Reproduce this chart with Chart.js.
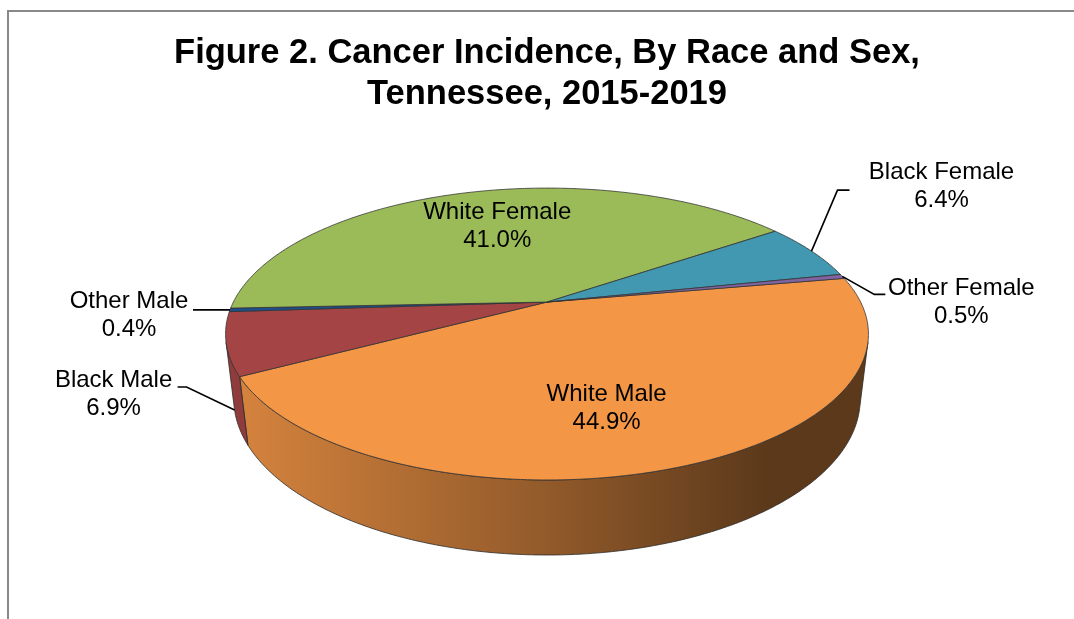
<!DOCTYPE html>
<html>
<head>
<meta charset="utf-8">
<script src="https://cdn.jsdelivr.net/npm/chart.js@4.4.1/dist/chart.umd.min.js"></script>
<style>
  html, body { margin: 0; padding: 0; background: #fff; }
  #wrap { position: relative; width: 1074px; height: 619px; overflow: hidden; }
  #frame { position: absolute; left: 7px; top: 10px; right: 0; bottom: 0;
           border-left: 2px solid #898989; border-top: 2px solid #898989; pointer-events: none; }
</style>
</head>
<body>
<div id="wrap">
  <canvas id="chart" width="1074" height="619"></canvas>
  <div id="frame"></div>
</div>
<script>
// data, in clockwise order as the slices appear
const categories = ["White Male", "Black Male", "Other Male", "White Female", "Black Female", "Other Female"];
const percentages = [44.9, 6.9, 0.4, 41.0, 6.4, 0.5];
const sliceColors = ["#F39646", "#A54444", "#1F4E8C", "#9BBB59", "#4198B0", "#8064A2"];
const titleLines = ["Figure 2. Cancer Incidence, By Race and Sex,", "Tennessee, 2015-2019"];

// camera for the tilted disc (sin/cos of the tilt, distance, focal per radius, thickness)
const VIEW = { sin: 0.443, cos: 0.8963, dist: 4.092, focal: 7.13, depth: 0.231 };

// where each label sits, relative to its slice
const labelPlacement = [
  { inside: 0.6, dx: -12, dy: 17 },
  { wall: true, text: [-121, -16], elbow: [-48, -23], end: [-57, -23] },
  { text: [-101, 6], elbow: [-37, 0], end: [-37, 0] },
  { inside: 0.6, dx: 4, dy: -5 },
  { text: [130, -65], elbow: [26, -61], end: [38, -61] },
  { text: [119, 26], elbow: [32, 18], end: [43, 18] }
];

function project(arc, ang, r, y) {
  const x = r * Math.cos(ang), z = r * Math.sin(ang);
  const dep = VIEW.dist - y * VIEW.sin - z * VIEW.cos;
  const F = arc.outerRadius * VIEW.focal;
  return { x: arc.x + F * x / dep, y: arc.y + F * (z * VIEW.sin - y * VIEW.cos) / dep };
}

function shade(hex, f) {
  const n = parseInt(hex.slice(1), 16);
  const r = Math.round(((n >> 16) & 255) * f), g = Math.round(((n >> 8) & 255) * f), b = Math.round((n & 255) * f);
  return `rgb(${r},${g},${b})`;
}

function steps(a, b) {
  const n = Math.max(2, Math.ceil(Math.abs(b - a) / (Math.PI / 360)));
  const out = [];
  for (let i = 0; i <= n; i++) out.push(a + (b - a) * i / n);
  return out;
}

const pie3d = {
  id: "pie3d",
  beforeDatasetsDraw(chart) {
    const ctx = chart.ctx;
    const arcs = chart.getDatasetMeta(0).data;
    const ref = arcs[0];
    const lo = Math.asin(1 / (VIEW.dist * VIEW.cos)), hi = Math.PI - lo;
    const xl = project(ref, Math.PI, 1, 0).x, xr = project(ref, 0, 1, 0).x;

    ctx.save();
    ctx.lineJoin = "round";
    // outer walls
    arcs.forEach((arc, i) => {
      for (let k = -1; k <= 1; k++) {
        const a = Math.max(arc.startAngle, lo + 2 * Math.PI * k);
        const b = Math.min(arc.endAngle, hi + 2 * Math.PI * k);
        if (b <= a) continue;
        const ts = steps(a, b);
        ctx.beginPath();
        ts.forEach((t, j) => { const p = project(arc, t, 1, 0); j ? ctx.lineTo(p.x, p.y) : ctx.moveTo(p.x, p.y); });
        ts.slice().reverse().forEach(t => { const p = project(arc, t, 1, -VIEW.depth); ctx.lineTo(p.x, p.y); });
        ctx.closePath();
        const g = ctx.createLinearGradient(xl, 0, xr, 0);
        g.addColorStop(0, shade(sliceColors[i], 0.88));
        g.addColorStop(0.5, shade(sliceColors[i], 0.6));
        g.addColorStop(0.85, shade(sliceColors[i], 0.38));
        g.addColorStop(1, shade(sliceColors[i], 0.38));
        ctx.fillStyle = g;
        ctx.fill();
        ctx.strokeStyle = "#2a2a2a";
        ctx.lineWidth = 0.8;
        ctx.stroke();
      }
    });
    // top face
    arcs.forEach((arc, i) => {
      const c = project(arc, 0, 0, 0);
      ctx.beginPath();
      ctx.moveTo(c.x, c.y);
      steps(arc.startAngle, arc.endAngle).forEach(t => { const p = project(arc, t, 1, 0); ctx.lineTo(p.x, p.y); });
      ctx.closePath();
      ctx.fillStyle = sliceColors[i];
      ctx.fill();
      ctx.strokeStyle = "#333";
      ctx.lineWidth = 0.8;
      ctx.stroke();
    });
    ctx.restore();
    return false;
  },
  afterDraw(chart) {
    const ctx = chart.ctx;
    const arcs = chart.getDatasetMeta(0).data;
    ctx.save();
    ctx.font = "24px 'Liberation Sans', Arial, sans-serif";
    ctx.fillStyle = "#000";
    ctx.textAlign = "center";
    ctx.textBaseline = "middle";
    arcs.forEach((arc, i) => {
      const pl = labelPlacement[i];
      const mid = (arc.startAngle + arc.endAngle) / 2;
      let cx, cy;
      if (pl.inside) {
        const p = project(arc, mid, pl.inside, 0);
        cx = p.x + pl.dx; cy = p.y + pl.dy;
      } else {
        const a = project(arc, mid, 1, pl.wall ? -VIEW.depth : 0);
        cx = a.x + pl.text[0]; cy = a.y + pl.text[1];
        ctx.beginPath();
        ctx.moveTo(a.x, a.y);
        ctx.lineTo(a.x + pl.elbow[0], a.y + pl.elbow[1]);
        ctx.lineTo(a.x + pl.end[0], a.y + pl.end[1]);
        ctx.strokeStyle = "#000";
        ctx.lineWidth = 1.6;
        ctx.stroke();
      }
      ctx.fillText(categories[i], cx, cy - 14);
      ctx.fillText(percentages[i].toFixed(1) + "%", cx, cy + 14);
    });
    ctx.restore();
  }
};

new Chart(document.getElementById("chart"), {
  type: "pie",
  data: {
    labels: categories,
    datasets: [{ data: percentages, backgroundColor: sliceColors, borderWidth: 0, hoverOffset: 0, radius: 180 }]
  },
  options: {
    responsive: false,
    animation: false,
    devicePixelRatio: 1,
    rotation: 79.8,
    layout: { padding: { top: 23, bottom: 140, left: 20 } },
    plugins: {
      legend: { display: false },
      tooltip: { enabled: false },
      title: {
        display: true,
        text: titleLines,
        color: "#000",
        font: { family: "'Liberation Sans', Arial, sans-serif", size: 34.5, weight: "bold", lineHeight: 1.19 },
        padding: { top: 10, bottom: 10 }
      }
    }
  },
  plugins: [pie3d]
});
</script>
</body>
</html>
